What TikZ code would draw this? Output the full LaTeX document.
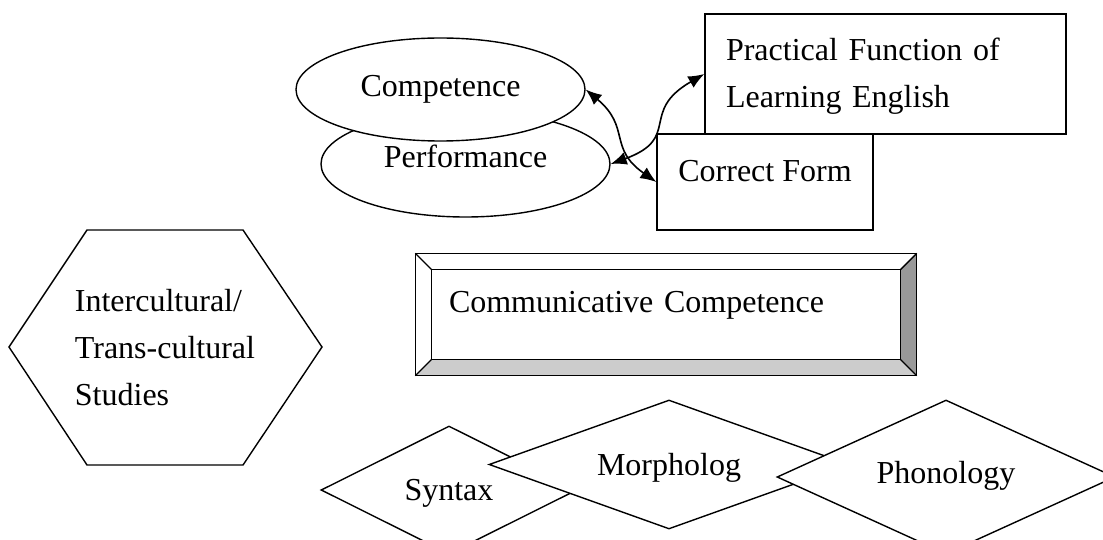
\documentclass[tikz,border=0pt]{standalone}
\usepackage{fontspec}
\setmainfont{Liberation Serif}
\usetikzlibrary{positioning, shapes.geometric, arrows.meta}

\definecolor{bevdark}{HTML}{999999}
\definecolor{bevlight}{HTML}{CCCCCC}

\tikzset{
  lbl/.style={font=\fontsize{32}{47}\selectfont, line width=1.4pt, inner sep=0pt},
  oneline/.style={text height=22pt, text depth=7pt},
  oval/.style={lbl, oneline, ellipse, draw, fill=white, minimum width=289pt, minimum height=103pt},
  frame/.style={lbl, rectangle, draw, fill=white},
  rhomb/.style={lbl, oneline, diamond, draw, fill=white, aspect=2.8},
  twoway/.style={arrows={Latex[length=16pt,width=13pt]-Latex[length=16pt,width=13pt]}, line width=1.6pt},
}

\begin{document}
\begin{tikzpicture}[x=1pt, y=1pt]
  \useasboundingbox (0,0) rectangle (1103,-540);

  % hexagon
  \draw[line width=1.4pt] (9,-347) -- (87,-230) -- (243,-230) -- (322,-347) -- (243,-465) -- (87,-465) -- cycle;
  \node[lbl, align=left] (ics) at (165,-347.5) {Intercultural/\\Trans-cultural\\Studies};

  % diamonds
  \node[rhomb, minimum width=256pt, minimum height=128pt, text depth=2pt] (syn) at (449,-490) {Syntax};
  \node[rhomb, on grid, above right=25.5pt and 220pt of syn, minimum width=360pt, minimum height=129pt, text depth=0pt] (mor) {Morpholog};
  \node[rhomb, on grid, below right=12.5pt and 277pt of mor, minimum width=338pt, minimum height=154pt, text depth=10pt] (pho) {Phonology};

  % bevelled box
  \node[lbl, oneline, text depth=27pt, minimum width=500pt, minimum height=121pt,
        text width=434pt, inner xsep=33pt, align=left] (comm) at (666,-314.5) {Communicative Competence};
  \coordinate (ci-nw) at ([shift={(16,-16)}]comm.north west);
  \coordinate (ci-ne) at ([shift={(-16,-16)}]comm.north east);
  \coordinate (ci-se) at ([shift={(-16,16)}]comm.south east);
  \coordinate (ci-sw) at ([shift={(16,16)}]comm.south west);
  \fill[bevdark] (comm.north east) -- (comm.south east) -- (ci-se) -- (ci-ne) -- cycle;
  \fill[bevlight] (comm.south west) -- (comm.south east) -- (ci-se) -- (ci-sw) -- cycle;
  \draw[line width=1.4pt] (comm.north west) rectangle (comm.south east);
  \draw[line width=1.4pt] (ci-nw) rectangle (ci-se);
  \draw[line width=1.4pt] (comm.north west) -- (ci-nw) (comm.north east) -- (ci-ne)
    (comm.south east) -- (ci-se) (comm.south west) -- (ci-sw);

  % ellipses
  \node[oval, minimum height=106pt, text depth=14pt] (perf) at (465.5,-164) {Performance};
  \node[oval, on grid, above left=74.5pt and 25pt of perf] (comp) {Competence};

  % boxes
  \node[frame, minimum width=361pt, minimum height=120pt, text width=319pt, inner xsep=21pt,
        align=left, text depth=50pt] (pf) at (885.5,-74) {Practical Function of\\Learning English};
  \node[frame, oneline, text depth=22pt, on grid, below left=108pt and 120.5pt of pf,
        minimum width=216pt, minimum height=96pt] (cf) {Correct Form};

  \draw[twoway] (comp.east) to[out=-40, in=145, looseness=1.3] (cf.west);
  \draw[twoway] (perf.east) to[out=20, in=210, looseness=1.5] (pf.west);
\end{tikzpicture}
\end{document}
